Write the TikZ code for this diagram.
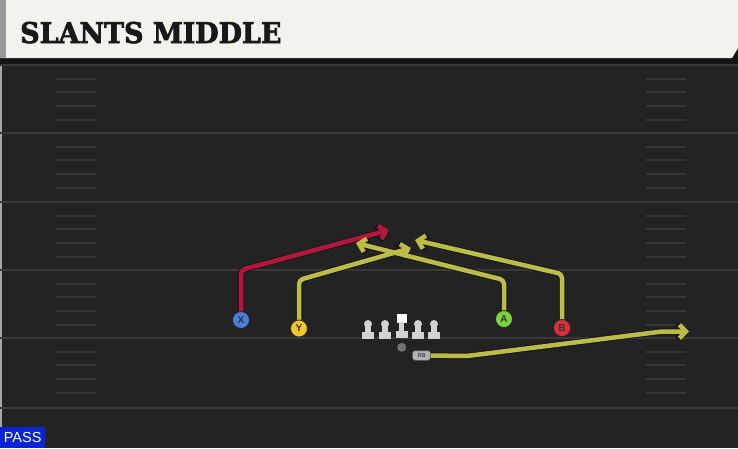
\documentclass[tikz,border=0pt]{standalone}
\usepackage{fontspec}
\setmainfont{Liberation Sans}
\newfontfamily\titlefont[FakeBold=2.5,FakeStretch=1.05]{DejaVu Serif Condensed}
\usetikzlibrary{arrows.meta}
\definecolor{fieldbg}{HTML}{232323}
\definecolor{fieldline}{HTML}{393939}
\definecolor{hashcol}{HTML}{363636}
\definecolor{headbg}{HTML}{F4F2EC}
\definecolor{routered}{HTML}{B5163B}
\definecolor{routeyel}{HTML}{BBBD48}
\definecolor{pblue}{HTML}{4B7FD9}
\definecolor{pyel}{HTML}{F2C62A}
\definecolor{pgreen}{HTML}{7CD23C}
\definecolor{pred}{HTML}{DF2F3F}
\definecolor{passblue}{HTML}{0B24D6}
\definecolor{olgray}{HTML}{D2D2D2}
\tikzset{
  fieldrule/.style={draw=fieldline, line width=2.2pt},
  hashmark/.style={draw=hashcol, line width=1.6pt},
  player/.style={circle, draw=black!85, line width=0.8pt, minimum size=17pt, inner sep=0pt, font=\fontsize{10}{10}\selectfont\bfseries, text=black!80},
  rbstyle/.style={rounded corners=2.5pt, fill=black!30, draw=black!70, line width=0.5pt, minimum width=18pt, minimum height=9.5pt, inner sep=0pt, font=\fontsize{5.5}{5.5}\selectfont\bfseries, text=black!75},
  routebg/.style={draw=black!90, line width=6.5pt, rounded corners=4pt, line join=round, -{Straight Barb[length=7.5pt,width=15pt]}},
  routefg/.style={line width=4.5pt, rounded corners=4pt, line join=round, -{Straight Barb[length=6.5pt,width=13.5pt]}},
  lineman/.style={fill=olgray, draw=none},
}
\begin{document}
\begin{tikzpicture}[x=1pt,y=-1pt]
\useasboundingbox (0,0) rectangle (738,448);
% field
\fill[fieldbg] (0,0) rectangle (738,448);
\fill[black!35] (0,60) rectangle (2,448);
\foreach \yy in {65,133,202,270,338,408} {
  \draw[fieldrule] (0,\yy) -- (738,\yy);
}
\foreach \L in {65,133,202,270,338} {
  \foreach \d in {14,27,41,55} {
    \draw[hashmark] (56,\L+\d) -- (96,\L+\d);
    \draw[hashmark] (646,\L+\d) -- (686,\L+\d);
  }
}
% header
\fill[black!92] (0,0) rectangle (738,64);
\fill[headbg] (0,0) -- (738,0) -- (738,48) -- (732,58) -- (0,58) -- cycle;
\fill[black!40] (0,0) rectangle (6,58);
\node[anchor=base west, inner sep=0pt, font=\titlefont\bfseries\fontsize{28.5}{28.5}\selectfont, text=black!90] (title) at (20,43) {SLANTS MIDDLE};
% pass label
\node[fill=passblue, anchor=south west, minimum width=45pt, minimum height=21pt, inner sep=0pt, text=white, font=\fontsize{14.5}{14.5}\selectfont] (pass) at (0,448) {PASS};
% offensive line
\foreach \xx in {368,385,418,434} {
  \fill[lineman] (\xx,324) circle (4pt);
  \fill[lineman] (\xx-2.6,324) rectangle (\xx+2.6,334);
  \fill[lineman] (\xx-6,332) rectangle (\xx+6,338.5);
}
\fill[white] (396.7,313.5) rectangle (406.7,322.5);
\fill[lineman] (399.1,322) rectangle (404.3,333);
\fill[lineman] (395.7,331) rectangle (407.7,337.5);
\node[circle, fill=black!55, minimum size=9pt, inner sep=0pt] (qb) at (401.7,347.3) {};
\node[rbstyle] (rb) at (421.5,355.5) {RB};
% route coordinates
\coordinate (xc) at (241,270);
\coordinate (xe) at (389,230);
\coordinate (yc) at (299,280);
\coordinate (ye) at (411,248);
\coordinate (ac) at (504,280);
\coordinate (ae) at (356,243);
\coordinate (bc) at (562,274);
\coordinate (be) at (415,240);
\coordinate (rc1) at (467,356);
\coordinate (rc2) at (662,331.5);
\coordinate (re) at (689,331.5);
% players (positions)
\coordinate (Xp) at (241,320);
\coordinate (Yp) at (299,328.5);
\coordinate (Ap) at (504,319);
\coordinate (Bp) at (562,328);
% route outlines
\draw[routebg] (Xp) -- (xc) -- (xe);
\draw[routebg] (Yp) -- (yc) -- (ye);
\draw[routebg] (Ap) -- (ac) -- (ae);
\draw[routebg] (Bp) -- (bc) -- (be);
\draw[routebg] (rb.east) -- (rc1) -- (rc2) -- (re);
% route fills
\draw[routefg, draw=routered] (Xp) -- (xc) -- (xe);
\draw[routefg, draw=routeyel] (Yp) -- (yc) -- (ye);
\draw[routefg, draw=routeyel] (Ap) -- (ac) -- (ae);
\draw[routefg, draw=routeyel] (Bp) -- (bc) -- (be);
\draw[routefg, draw=routeyel] (rb.east) -- (rc1) -- (rc2) -- (re);
% player circles
\node[player, fill=pblue] (X) at (Xp) {X};
\node[player, fill=pyel] (Y) at (Yp) {Y};
\node[player, fill=pgreen] (A) at (Ap) {A};
\node[player, fill=pred] (B) at (Bp) {B};
\node[rbstyle] at (rb) {RB};
\end{tikzpicture}
\end{document}
